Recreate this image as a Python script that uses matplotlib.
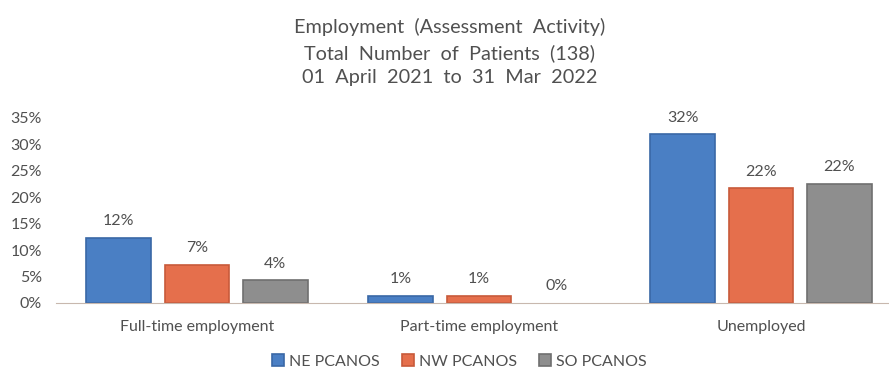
import numpy as np
import matplotlib.pyplot as plt

plt.rcParams['font.family'] = ['Lato', 'DejaVu Sans']

categories = ['Full-time employment', 'Part-time employment', 'Unemployed']
series = ['NE PCANOS', 'NW PCANOS', 'SO PCANOS']
ne = [12.3, 1.4, 31.9]
nw = [7.2, 1.4, 21.7]
so = [4.3, 0.0, 22.5]
colors = ['#4a7fc4', '#e56f4c', '#8e8e8e']
edges = ['#3a68a6', '#c85a3a', '#6f6f6f']
text_col = '#505050'

fig = plt.figure(figsize=(8.89, 3.72), dpi=100)
ax = fig.add_axes([0.063, 0.1855, 0.937, 0.4975])

x = np.arange(len(categories))
width = 0.23
step = 0.277
for i, (vals, name) in enumerate(zip([ne, nw, so], series)):
    pos = x + (i - 1) * step
    lw = [1.2 if v > 0 else 0 for v in vals]
    bars = ax.bar(pos, vals, width, color=colors[i], edgecolor=edges[i],
                  linewidth=lw, label=name)
    for b, v in zip(bars, vals):
        ax.annotate(f'{v:.0f}%', (b.get_x() + b.get_width() / 2, v),
                    xytext=(0, 7), textcoords='offset points',
                    ha='center', va='bottom', fontsize=11.5, color=text_col)

ax.set_xlim(-0.5, 2.454)
ax.set_ylim(0, 35)
ax.set_yticks(range(0, 36, 5))
ax.set_yticklabels([f'{t}%' for t in range(0, 36, 5)])
ax.set_xticks(x)
ax.set_xticklabels(categories)
ax.tick_params(axis='both', length=0, labelsize=11.5, colors=text_col)
ax.tick_params(axis='y', pad=10)
ax.tick_params(axis='x', pad=12)
for s in ['top', 'right', 'left']:
    ax.spines[s].set_visible(False)
ax.spines['bottom'].set_color('#c8b8ae')

fig.text(0.506, 0.86, 'Employment  (Assessment  Activity)\nTotal  Number  of  Patients  (138)\n01  April  2021  to  31  Mar  2022',
         ha='center', va='center', fontsize=14.3, color=text_col, linespacing=1.5)

fig.legend(loc='lower center', bbox_to_anchor=(0.517, 0.0), ncol=3, frameon=False,
           fontsize=11.5, labelcolor=text_col, handlelength=0.75, handleheight=0.75,
           handletextpad=0.3, columnspacing=1.4, borderpad=0.1, borderaxespad=0.1)

fig.savefig('out.png', dpi=100)
